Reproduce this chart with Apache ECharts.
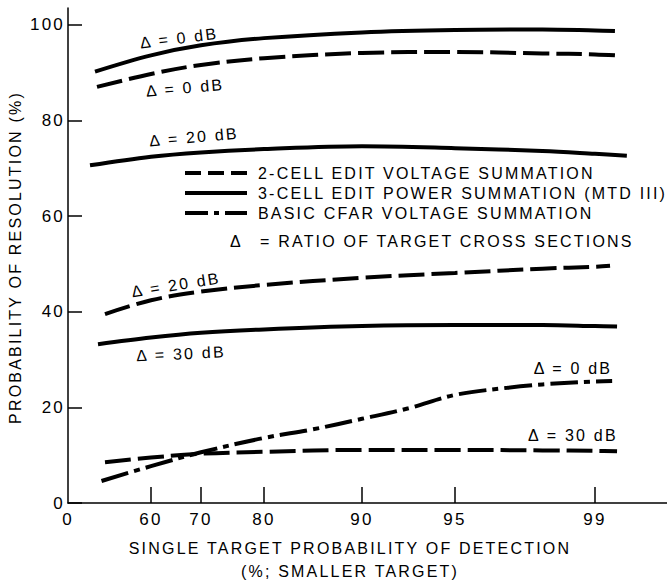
<!DOCTYPE html>
<html><head><meta charset="utf-8">
<script src="https://cdn.jsdelivr.net/npm/echarts@6/dist/echarts.min.js"></script>
<style>
html,body{margin:0;padding:0;background:#fff;}
#chart{width:667px;height:581px;}
#chart text{letter-spacing:2.2px;}
</style></head><body><div id="chart"></div>
<script>
// x axis: single target probability of detection (%), drawn on probability paper
const PD_TICKS = [60, 70, 80, 90, 95, 99];
const PD_TICK_POS = [83, 133, 196, 294, 387, 527]; // scale positions of the probability paper
const Y_TICKS = [0, 20, 40, 60, 80, 100];

const SERIES_2CELL = '2-CELL EDIT VOLTAGE SUMMATION';
const SERIES_3CELL = '3-CELL EDIT POWER SUMMATION (MTD III)';
const SERIES_CFAR = 'BASIC CFAR VOLTAGE SUMMATION';

// 3-cell edit power summation, delta = 0 dB
const pd_3cell_0 = [48.8, 60, 70, 80, 90, 95, 97.5, 99, 99.57];
const res_3cell_0 = [90.2, 93.6, 95.7, 97.2, 98.4, 98.9, 99.0, 98.8, 98.7];
// 2-cell edit voltage summation, delta = 0 dB
const pd_2cell_0 = [49.2, 60, 70, 80, 90, 95, 97.5, 99, 99.57];
const res_2cell_0 = [87.0, 89.7, 91.6, 93.0, 94.1, 94.3, 94.0, 93.8, 93.6];
// 3-cell, delta = 20 dB
const pd_3cell_20 = [47.8, 60, 70, 80, 90, 95, 97.5, 99, 99.91];
const res_3cell_20 = [70.6, 72.4, 73.3, 74.0, 74.6, 74.2, 73.6, 73.0, 72.6];
// 2-cell, delta = 20 dB
const pd_2cell_20 = [50.8, 60, 70, 80, 90, 95, 97.5, 99, 99.43];
const res_2cell_20 = [39.5, 42.4, 44.2, 45.6, 47.1, 48.1, 49.0, 49.4, 49.6];
// 3-cell, delta = 30 dB
const pd_3cell_30 = [49.4, 60, 70, 80, 90, 95, 97.5, 99, 99.63];
const res_3cell_30 = [33.2, 34.6, 35.6, 36.3, 37.0, 37.2, 37.2, 37.0, 36.9];
// 2-cell, delta = 30 dB
const pd_2cell_30 = [50.8, 60, 70, 80, 90, 95, 97.5, 99, 99.63];
const res_2cell_30 = [8.5, 9.5, 10.3, 10.7, 11.1, 11.1, 11.0, 10.9, 10.8];
// basic CFAR voltage summation, delta = 0 dB
const pd_cfar_0 = [50.1, 60, 70, 80, 85, 90, 92.5, 95, 96.5, 97.5, 99, 99.49];
const res_cfar_0 = [4.6, 7.7, 10.6, 13.6, 15.4, 17.6, 19.8, 22.6, 24.1, 24.8, 25.4, 25.5];

// curve annotations
const ann_text = ['Δ = 0 dB', 'Δ = 0 dB', 'Δ = 20 dB', 'Δ = 20 dB', 'Δ = 30 dB', 'Δ = 0 dB', 'Δ = 30 dB'];
const ann_pd = [65.6, 66.8, 68.6, 65.0, 66.0, 98.37, 98.37];
const ann_res = [97.2, 86.8, 76.5, 45.6, 31.2, 28.2, 14.2];

const FONT = '"Liberation Sans", Arial, Helvetica, sans-serif';

function pdToAxis(p) {
  const P = PD_TICKS, U = PD_TICK_POS;
  let i;
  if (p <= P[0]) i = 0;
  else if (p >= P[P.length - 1]) i = P.length - 2;
  else { i = 0; while (p > P[i + 1]) i++; }
  return U[i] + (p - P[i]) * (U[i + 1] - U[i]) / (P[i + 1] - P[i]);
}

function annot(idx, rot) {
  return {
    coord: [pdToAxis(ann_pd[idx]), ann_res[idx]],
    value: ann_text[idx],
    label: { rotate: rot }
  };
}

function mkSeries(name, pd, res, dash, marks) {
  return {
    name: name,
    type: 'line',
    data: pd.map((p, i) => [pdToAxis(p), res[i]]),
    symbol: 'none',
    smooth: 0.35,
    color: '#000',
    silent: true,
    lineStyle: { color: '#000', width: 4, type: dash, cap: 'butt' },
    markPoint: {
      symbol: 'circle', symbolSize: 1,
      itemStyle: { color: 'rgba(0,0,0,0)' },
      silent: true,
      label: { show: true, position: 'inside', color: '#000', fontSize: 16, fontFamily: FONT,
               formatter: (pp) => pp.value },
      data: marks
    }
  };
}

const DASHED = [26, 7];
const DASHDOT = [28, 6, 6, 6];
const LEG_DASHED = [16, 7];
const LEG_DASHDOT = [23, 6, 5, 6];

function legItem(name, dash) {
  return { name: name, itemStyle: { opacity: 0 },
           lineStyle: { color: '#000', width: 4, type: dash, cap: 'butt' } };
}

const chart = echarts.init(document.getElementById('chart'), null, { renderer: 'svg' });
chart.setOption({
  animation: false,
  backgroundColor: '#fff',
  grid: { left: 68, right: 0, top: 8, bottom: 78, outerBoundsMode: 'none', containLabel: false },
  legend: {
    orient: 'vertical', left: 178, top: 160,
    itemWidth: 62, itemHeight: 14, itemGap: 4,
    selectedMode: false,
    data: [legItem(SERIES_2CELL, LEG_DASHED), legItem(SERIES_3CELL, 'solid'), legItem(SERIES_CFAR, LEG_DASHDOT)],
    textStyle: { color: '#000', fontSize: 16, fontFamily: FONT, padding: [0, 0, 0, 6] }
  },
  xAxis: {
    type: 'value', min: 0, max: 599,
    name: 'SINGLE TARGET PROBABILITY OF DETECTION\n(%; SMALLER TARGET)',
    nameLocation: 'middle', nameGap: 34,
    nameTextStyle: { color: '#000', fontSize: 16, fontFamily: FONT, lineHeight: 23, padding: [0, 35, 0, 0] },
    splitLine: { show: false },
    axisLine: { show: true, onZero: false, lineStyle: { color: '#000', width: 1.5 } },
    axisTick: { show: true, inside: true, length: 16, lineStyle: { color: '#000', width: 1.5 },
                customValues: PD_TICKS.map(pdToAxis) },
    axisLabel: {
      color: '#000', fontSize: 17, fontFamily: FONT, margin: 8,
      customValues: [0].concat(PD_TICKS.map(pdToAxis)),
      formatter: function (v) {
        if (Math.abs(v) < 0.01) return '0';
        for (let i = 0; i < PD_TICKS.length; i++) {
          if (Math.abs(pdToAxis(PD_TICKS[i]) - v) < 0.01) return String(PD_TICKS[i]);
        }
        return '';
      }
    }
  },
  yAxis: {
    type: 'value', min: 0, max: 103.5,
    name: 'PROBABILITY OF RESOLUTION (%)',
    nameLocation: 'middle', nameGap: 45,
    nameTextStyle: { color: '#000', fontSize: 16, fontFamily: FONT, padding: [0, 4, 0, 0] },
    splitLine: { show: false },
    axisLine: { show: true, lineStyle: { color: '#000', width: 1.5 } },
    axisTick: { show: true, inside: true, length: 14, lineStyle: { color: '#000', width: 1.5 },
                customValues: Y_TICKS },
    axisLabel: { color: '#000', fontSize: 17, fontFamily: FONT, margin: 3, customValues: Y_TICKS }
  },
  graphic: [
    { type: 'text', left: 230, top: 233, silent: true,
      style: { text: 'Δ', fill: '#000', font: '16px ' + FONT } },
    { type: 'text', left: 260, top: 233, silent: true,
      style: { text: '= RATIO OF TARGET CROSS SECTIONS', fill: '#000', font: '16px ' + FONT } }
  ],
  series: [
    mkSeries(SERIES_2CELL, pd_2cell_0, res_2cell_0, DASHED, [annot(1, 5)]),
    mkSeries(SERIES_3CELL, pd_3cell_0, res_3cell_0, 'solid', [annot(0, 7)]),
    mkSeries(SERIES_CFAR, pd_cfar_0, res_cfar_0, DASHDOT, [annot(5, 0)]),
    mkSeries(SERIES_3CELL, pd_3cell_20, res_3cell_20, 'solid', [annot(2, 5)]),
    mkSeries(SERIES_2CELL, pd_2cell_20, res_2cell_20, DASHED, [annot(3, 9)]),
    mkSeries(SERIES_3CELL, pd_3cell_30, res_3cell_30, 'solid', [annot(4, 2.5)]),
    mkSeries(SERIES_2CELL, pd_2cell_30, res_2cell_30, DASHED, [annot(6, 0)])
  ]
});
</script></body></html>
